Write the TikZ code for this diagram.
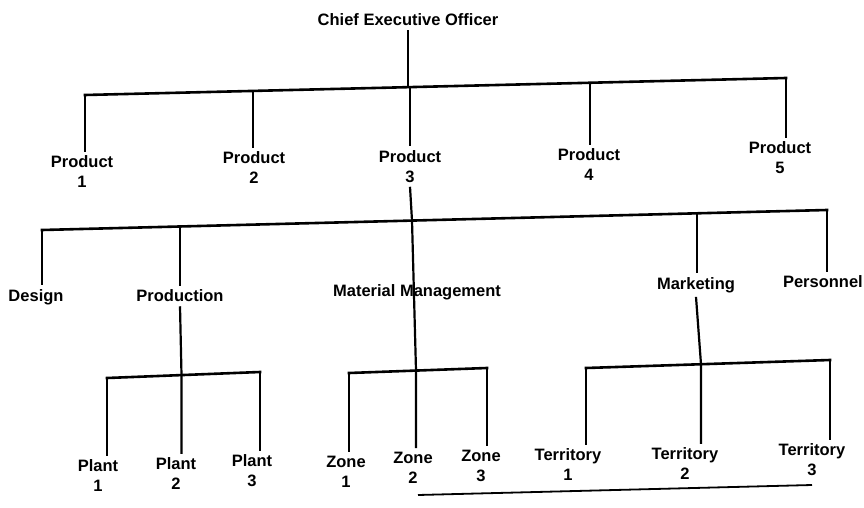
\documentclass[tikz,border=0pt]{standalone}
\usepackage{fontspec}
\setmainfont{Liberation Sans}
\begin{document}
\begin{tikzpicture}[x=1pt,y=-1pt,
  lbl/.style={font=\fontsize{16.5}{20}\selectfont\bfseries, align=center, inner sep=4pt},
  bar/.style={line width=2.6pt, line cap=rect},
  stem/.style={line width=2.2pt}]
\useasboundingbox (0,0) rectangle (864,508);
% labels
\node[lbl] (ceo) at (408,20) {Chief Executive Officer};
\node[lbl] (p1) at (82,172) {Product\\1};
\node[lbl] (p2) at (254,168) {Product\\2};
\node[lbl] (p3) at (410,166.5) {Product\\3};
\node[lbl] (p4) at (589,165) {Product\\4};
\node[lbl] (p5) at (780,158) {Product\\5};
\node[lbl] (des) at (36,297) {Design};
\node[lbl] (prod) at (180,296) {Production};
\node[lbl] (mm) at (417,292) {Material Management};
\node[lbl] (mkt) at (696,285) {Marketing};
\node[lbl, anchor=east, inner xsep=1pt] (pers) at (864,282) {Personnel};
\node[lbl] (pl1) at (98,476) {Plant\\1};
\node[lbl] (pl2) at (176,474) {Plant\\2};
\node[lbl] (pl3) at (252,471) {Plant\\3};
\node[lbl] (z1) at (346,472) {Zone\\1};
\node[lbl] (z2) at (413,468) {Zone\\2};
\node[lbl] (z3) at (481,466) {Zone\\3};
\node[lbl] (t1) at (568,465) {Territory\\1};
\node[lbl] (t2) at (685,464) {Territory\\2};
\node[lbl] (t3) at (812,460) {Territory\\3};
% bar junction coordinates
\coordinate (b1l) at (85,95);
\coordinate (b1r) at (786,78);
\coordinate (b1c) at (408,87.2);
\coordinate (b12) at (253,90.9);
\coordinate (b13) at (410,87.1);
\coordinate (b14) at (590,82.8);
\coordinate (b2l) at (42,230);
\coordinate (b2r) at (827,210);
\coordinate (b22) at (180,226.5);
\coordinate (b23) at (412,220.6);
\coordinate (b24) at (697,213.3);
\coordinate (pbl) at (107,378);
\coordinate (pbr) at (260,372);
\coordinate (pbc) at (181.5,375);
\coordinate (zbl) at (349,373);
\coordinate (zbr) at (487,368);
\coordinate (zbc) at (416,370.5);
\coordinate (tbl) at (586,368);
\coordinate (tbr) at (830,360);
\coordinate (tbc) at (701,364.2);
\coordinate (sl) at (418,495);
\coordinate (sr) at (812,485);
% bars
\draw[bar] (b1l) -- (b1r);
\draw[bar] (b2l) -- (b2r);
\draw[bar] (pbl) -- (pbr);
\draw[bar] (zbl) -- (zbr);
\draw[bar] (tbl) -- (tbr);
% stems level 1
\draw[stem] (ceo.south) -- (b1c);
\draw[stem] (b1l) -- (b1l |- p1.north);
\draw[stem] (b12) -- (b12 |- p2.north);
\draw[stem] (b13) -- (b13 |- p3.north);
\draw[stem] (b14) -- (b14 |- p4.north);
\draw[stem] (b1r) -- (b1r |- p5.north);
% level 2
\draw[stem] (p3.south) -- (b23) -- (zbc) -- (zbc |- z2.north);
\draw[stem] (b2l) -- (b2l |- des.north);
\draw[stem] (b22) -- (b22 |- prod.north);
\draw[stem] (b24) -- (b24 |- mkt.north);
\draw[stem] (b2r) -- (b2r |- pers.north);
% level 3
\draw[stem] (prod.south) -- (pbc) -- (pbc |- pl2.north);
\draw[stem] (pbl) -- (pbl |- pl1.north);
\draw[stem] (pbr) -- (pbr |- pl3.north);
\draw[stem] (zbl) -- (zbl |- z1.north);
\draw[stem] (zbr) -- (zbr |- z3.north);
\draw[stem] (mkt.south) -- (tbc) -- (tbc |- t2.north);
\draw[stem] (tbl) -- (tbl |- t1.north);
\draw[stem] (tbr) -- (tbr |- t3.north);
% stray rule at bottom
\draw[line width=1.8pt] (sl) -- (sr);
\end{tikzpicture}
\end{document}
